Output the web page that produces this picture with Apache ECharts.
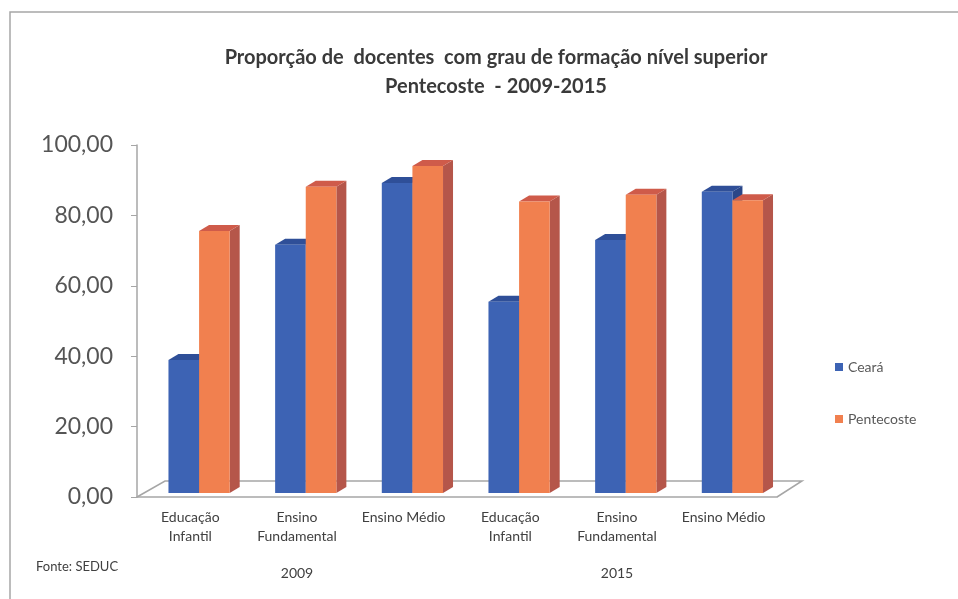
<!DOCTYPE html>
<html>
<head>
<meta charset="utf-8">
<script src="https://cdn.jsdelivr.net/npm/echarts@6/dist/echarts.min.js"></script>
<style>
  html, body { margin: 0; padding: 0; background: #fff; }
  #chart { width: 958px; height: 599px; }
</style>
</head>
<body>
<div id="chart"></div>
<script>
const categories = ['Educação\nInfantil', 'Ensino\nFundamental', 'Ensino Médio', 'Educação\nInfantil', 'Ensino\nFundamental', 'Ensino Médio']
const years = ['2009', '2015']
const ceara = [37.8, 70.5, 88.1, 54.3, 71.9, 85.6]
const pentecoste = [74.4, 87.0, 92.9, 82.8, 84.7, 83.2]
const yTicks = [0, 20, 40, 60, 80, 100]

const TEXT = '#404040'
const FONT = 'Lato, "Open Sans", sans-serif'
const COLORS = [
  { front: '#3d63b4', top: '#2f4f98', side: '#2a4688' },
  { front: '#f1804f', top: '#cf5b4a', side: '#b5564a' },
]

// fake 3d column: side face, top face, then front face
function makeRender(seriesIdx) {
  return function (params, api) {
    const i = api.value(0)
    const v = api.value(1)
    const band = api.size([1, 0])[0]
    const base = api.coord([i, 0])
    const top = api.coord([i, v])
    const w = band * 0.287
    const x0 = base[0] - band * 0.205 + seriesIdx * w
    const x1 = x0 + w
    const yb = base[1] - 4
    const yt = top[1] - 4
    const dx = 10
    const dy = -6
    const c = COLORS[seriesIdx]
    return {
      type: 'group',
      children: [
        { type: 'polygon', shape: { points: [[x1, yt], [x1 + dx, yt + dy], [x1 + dx, yb + dy], [x1, yb]] }, style: { fill: c.side } },
        { type: 'polygon', shape: { points: [[x0, yt], [x1, yt], [x1 + dx, yt + dy], [x0 + dx, yt + dy]] }, style: { fill: c.top } },
        { type: 'rect', shape: { x: x0, y: yt, width: w, height: yb - yt }, style: { fill: c.front } },
      ],
    }
  }
}

const chart = echarts.init(document.getElementById('chart'), null, { renderer: 'canvas' })

chart.setOption({
  animation: false,
  backgroundColor: '#fff',
  title: {
    text: 'Proporção de  docentes  com grau de formação nível superior\nPentecoste  - 2009-2015',
    left: 491,
    textAlign: 'center',
    top: 38,
    textStyle: { fontFamily: FONT, fontSize: 20, fontWeight: 'bold', color: '#3a3a3a', lineHeight: 29 },
  },
  legend: {
    orient: 'vertical',
    left: 830,
    top: 355,
    itemGap: 38,
    itemWidth: 8,
    itemHeight: 8,
    icon: 'rect',
    textStyle: { fontFamily: FONT, fontSize: 14, color: '#595959' },
    data: ['Ceará', 'Pentecoste'],
  },
  grid: { left: 137, right: 181, top: 145, bottom: 102 },
  xAxis: [
    {
      type: 'category',
      data: categories,
      position: 'bottom',
      axisLine: { lineStyle: { color: '#a6a6a6', width: 1.5 } },
      axisTick: { length: 48, lineStyle: { color: '#a6a6a6', width: 1.5 } },
      axisLabel: { interval: 0, margin: 11, fontFamily: FONT, fontSize: 14, lineHeight: 19, color: TEXT },
    },
    {
      type: 'category',
      data: years,
      position: 'bottom',
      axisLine: { show: false },
      axisTick: { length: 88, lineStyle: { color: '#a6a6a6', width: 1.5 } },
      axisLabel: { margin: 69, fontFamily: FONT, fontSize: 14, color: TEXT },
    },
  ],
  yAxis: {
    type: 'value',
    min: yTicks[0],
    max: yTicks[yTicks.length - 1],
    interval: 20,
    axisLine: { show: true, lineStyle: { color: '#a6a6a6', width: 1.5 } },
    axisTick: { show: true, length: 6, lineStyle: { color: '#a6a6a6' } },
    splitLine: { show: false },
    axisLabel: {
      margin: 24,
      fontFamily: FONT,
      fontSize: 23,
      color: '#555',
      formatter: (v) => v.toFixed(2).replace('.', ','),
    },
  },
  series: [
    {
      name: 'Ceará',
      type: 'custom',
      itemStyle: { color: COLORS[0].front },
      renderItem: makeRender(0),
      encode: { x: 0, y: 1 },
      data: ceara.map((v, i) => [i, v]),
      z: 2,
    },
    {
      name: 'Pentecoste',
      type: 'custom',
      itemStyle: { color: COLORS[1].front },
      renderItem: makeRender(1),
      encode: { x: 0, y: 1 },
      data: pentecoste.map((v, i) => [i, v]),
      z: 3,
    },
  ],
})

// floor plane and frame, placed from the axes
const p0 = chart.convertToPixel({ gridIndex: 0 }, [0, 0])
const band = chart.getModel().getComponent('xAxis', 0).axis.getBandWidth()
const fl = p0[0] - band / 2
const fr = fl + band * categories.length
const fy = p0[1]

chart.setOption({
  graphic: [
    {
      type: 'polyline',
      shape: { points: [[fl, fy], [fl + 28, fy - 16], [fr + 25, fy - 16], [fr, fy]] },
      style: { stroke: '#a6a6a6', lineWidth: 1.5, fill: null },
      z: 1,
    },
    {
      type: 'rect',
      shape: { x: 10, y: 12, width: 960, height: 600 },
      style: { stroke: '#a6a6a6', lineWidth: 1.5, fill: null },
      silent: true,
    },
    {
      type: 'text',
      left: 36,
      top: 560,
      style: { text: 'Fonte: SEDUC', fontFamily: FONT, fontSize: 13, fill: TEXT },
    },
  ],
})
</script>
</body>
</html>
